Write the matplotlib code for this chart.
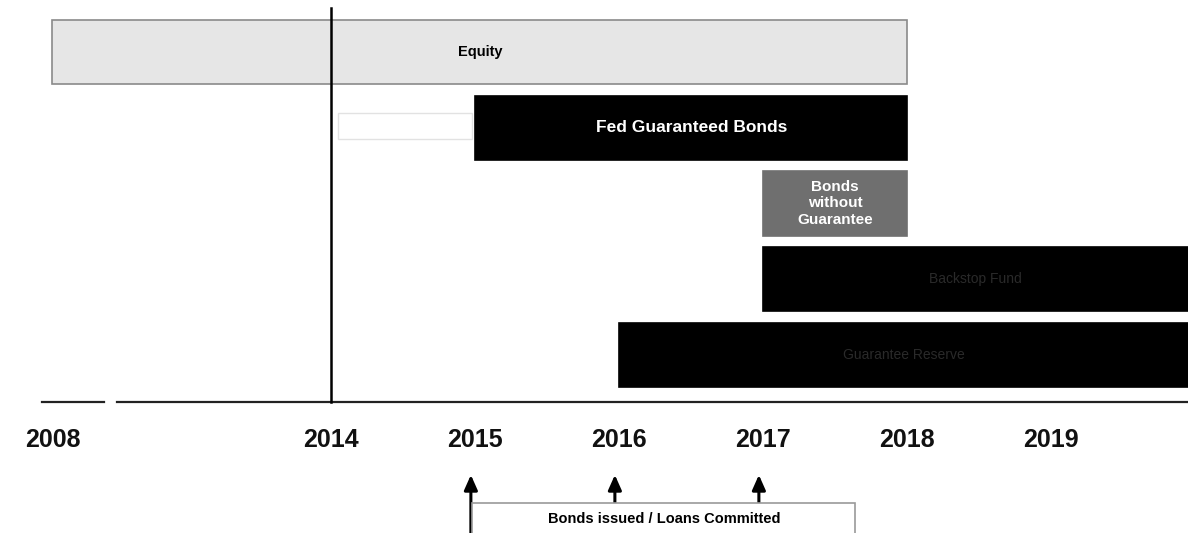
import matplotlib.pyplot as plt
from matplotlib.patches import Rectangle

plt.rcParams['font.family'] = ['Liberation Sans', 'DejaVu Sans']

# Timeline rows (top to bottom)
rows = ["Equity", "Fed Guaranteed Bonds", "Bonds\nwithout\nGuarantee", "Backstop Fund", "Guarantee Reserve"]
starts = [2008, 2015, 2017, 2017, 2016]
ends = [2018, 2018, 2018, 2020, 2020]
fills = ["#e6e6e6", "#000000", "#6f6f6f", "#000000", "#000000"]
text_colors = ["#000000", "#ffffff", "#ffffff", "#2a2a2a", "#2a2a2a"]

years = [2008, 2014, 2015, 2016, 2017, 2018, 2019]
milestones = [2015, 2016, 2017]
milestone_text = "Bonds issued / Loans Committed"


def pos(year):
    # years before 2014 are squeezed together on the axis
    if year >= 2014:
        return year
    return 2014 - (2014 - year) / 3.1


fig = plt.figure(figsize=(11.88, 5.33), dpi=100)
ax = fig.add_axes([0, 0, 1, 1])
ax.set_xlim(2011.70, 2019.95)
ax.set_ylim(6.354, -0.687)
ax.axis('off')

h = 0.85
sizes = [10.5, 12.5, 11, 10, 10]
weights = ['bold', 'bold', 'bold', 'normal', 'normal']
for i, (name, s, e) in enumerate(zip(rows, starts, ends)):
    x0, x1 = pos(s), pos(e)
    edge = "#8a8a8a" if i == 0 else fills[i]
    ax.add_patch(Rectangle((x0, i - h / 2), x1 - x0, h, facecolor=fills[i],
                           edgecolor=edge, lw=1.2, zorder=2))
    ax.text((x0 + min(x1, 2019.95)) / 2, i, name, ha='center', va='center',
            color=text_colors[i], fontsize=sizes[i], fontweight=weights[i],
            linespacing=1.25, zorder=3)

# faint placeholder ahead of the guaranteed bonds
ax.add_patch(Rectangle((2014.05, 1 - 0.19), 0.93, 0.34, facecolor='white',
                       edgecolor='#e2e2e2', lw=1, zorder=1))

# 2014 marker and the time axis
ax.plot([2014, 2014], [-0.58, 4.62], color='black', lw=1.8, zorder=4)
ax.plot([pos(2008) - 0.07, pos(2008) + 0.36], [4.62, 4.62], color='#222222', lw=1.6)
ax.plot([pos(2008) + 0.45, 2019.95], [4.62, 4.62], color='#222222', lw=1.6)

for y in years:
    ax.text(pos(y), 5.13, str(y), ha='center', va='center', fontsize=18,
            fontweight='bold', color='#111111')

# milestone arrows and their label box
for m in milestones:
    ax.annotate('', xy=(m - 0.03, 5.55), xytext=(m - 0.03, 6.5),
                arrowprops=dict(arrowstyle='-|>,head_width=0.4,head_length=0.9',
                                color='black', lw=2.2))
ax.add_patch(Rectangle((2014.98, 5.96), 2.66, 0.6, facecolor='white',
                       edgecolor='#9a9a9a', lw=1.2, zorder=3))
ax.text(2016.31, 6.17, milestone_text, ha='center', va='center', fontsize=10.5,
        fontweight='bold', color='black', zorder=4)

fig.savefig('out.png', dpi=100)
